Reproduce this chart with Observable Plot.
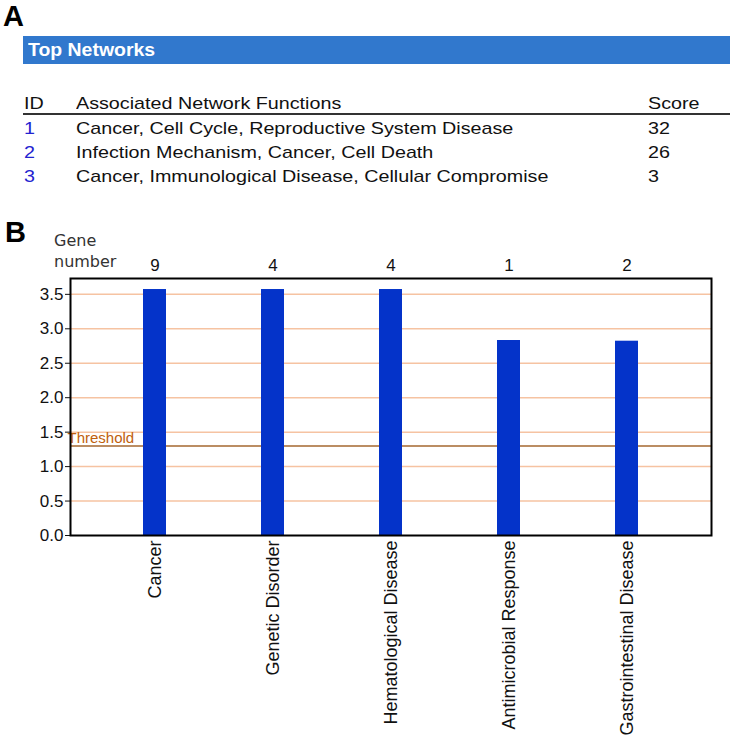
<!DOCTYPE html>
<html>
<head>
<meta charset="utf-8">
<script src="https://cdn.jsdelivr.net/npm/d3@7"></script>
<script src="https://cdn.jsdelivr.net/npm/@observablehq/plot@0.6"></script>
<style>
  html, body { margin: 0; padding: 0; background: #fff; }
  body { width: 730px; height: 736px; position: relative; overflow: hidden; font-family: "Liberation Sans", Arial, sans-serif; }
  .abs { position: absolute; white-space: nowrap; }
  .panel { font-weight: bold; font-size: 29px; line-height: 29px; color: #000; }
  #bar { left: 23px; top: 36px; width: 707px; height: 28px; background: #3178cd; }
  #bar span { position: absolute; left: 5px; top: 4px; color: #fff; font-weight: bold; font-size: 18px; transform: scaleX(1.08); transform-origin: left center; }
  .cell { font-size: 17px; color: #111; line-height: 1; transform: scaleX(1.16); transform-origin: left center; }
  .id { color: #2323d0; }
  #rule { left: 23px; top: 113px; width: 707px; height: 1.5px; background: #333; }
  #gene { left: 54px; top: 230px; font-family: "DejaVu Sans", Verdana, sans-serif; font-size: 16px; color: #333; line-height: 21px; }
  #chart { position: absolute; left: 0; top: 200px; }
</style>
</head>
<body>
<div class="abs panel" style="left:3px; top:2px;">A</div>
<div class="abs" id="bar"><span>Top Networks</span></div>
<div id="table"></div>
<div class="abs" id="rule"></div>
<div class="abs panel" style="left:5px; top:218px;">B</div>
<div class="abs" id="gene">Gene<br>number</div>
<div id="chart"></div>
<script>
// Panel A table
const tableHeader = ["ID", "Associated Network Functions", "Score"];
const networkIds = [1, 2, 3];
const networkFunctions = [
  "Cancer, Cell Cycle, Reproductive System Disease",
  "Infection Mechanism, Cancer, Cell Death",
  "Cancer, Immunological Disease, Cellular Compromise"
];
const networkScores = [32, 26, 3];

// Panel B bar chart
const categories = ["Cancer", "Genetic Disorder", "Hematological Disease", "Antimicrobial Response", "Gastrointestinal Disease"];
const values = [3.57, 3.57, 3.57, 2.83, 2.82];
const geneNumbers = [9, 4, 4, 1, 2];
const threshold = 1.3;
const yTicks = [0, 0.5, 1, 1.5, 2, 2.5, 3, 3.5];

// build table
const colX = [24, 76, 648];
const tbl = document.getElementById("table");
function addCell(text, x, baseline, cls) {
  const d = document.createElement("div");
  d.className = "abs cell " + (cls || "");
  d.style.left = x + "px";
  d.style.top = (baseline - 14) + "px";
  d.textContent = text;
  tbl.appendChild(d);
}
tableHeader.forEach((h, j) => addCell(h, colX[j], 109));
networkIds.forEach((id, i) => {
  const b = 134 + i * 24;
  addCell(String(id), colX[0], b, "id");
  addCell(networkFunctions[i], colX[1], b);
  addCell(String(networkScores[i]), colX[2], b);
});

const data = categories.map((c, i) => ({category: c, value: values[i], genes: geneNumbers[i]}));

const chart = Plot.plot({
  width: 730,
  height: 536,
  marginLeft: 70,
  marginRight: 19,
  marginTop: 78,
  marginBottom: 201,
  style: {fontFamily: "'Liberation Sans', Arial, sans-serif", fontSize: "17px", color: "#111", background: "transparent"},
  x: {domain: categories, paddingInner: 0.806, paddingOuter: 0.613, label: null},
  y: {domain: [0, 3.73], label: null},
  marks: [
    Plot.ruleY(yTicks.filter(d => d > 0), {stroke: "#f6c3a2", strokeWidth: 1.5}),
    Plot.ruleY([threshold], {stroke: "#a5672f", strokeWidth: 1.5}),
    Plot.text([threshold], {y: d => d, text: () => "Threshold", frameAnchor: "left", textAnchor: "start", lineAnchor: "bottom", dx: -3, dy: -3, fill: "#c0600c", fontSize: 15}),
    Plot.barY(data, {x: "category", y: "value", fill: "#0433c9"}),
    Plot.axisY({ticks: yTicks, tickFormat: d3.format(".1f"), tickSize: 5, tickPadding: 2, fontSize: 17}),
    Plot.axisX({anchor: "top", tickSize: 0, tickPadding: 8, tickFormat: (d) => String(geneNumbers[categories.indexOf(d)]), fontSize: 17}),
    Plot.axisX({anchor: "bottom", tickSize: 0, tickPadding: 5, tickRotate: -90, fontSize: 18}),
    Plot.frame({stroke: "#000", strokeWidth: 2})
  ]
});
document.getElementById("chart").appendChild(chart);
</script>
</body>
</html>
